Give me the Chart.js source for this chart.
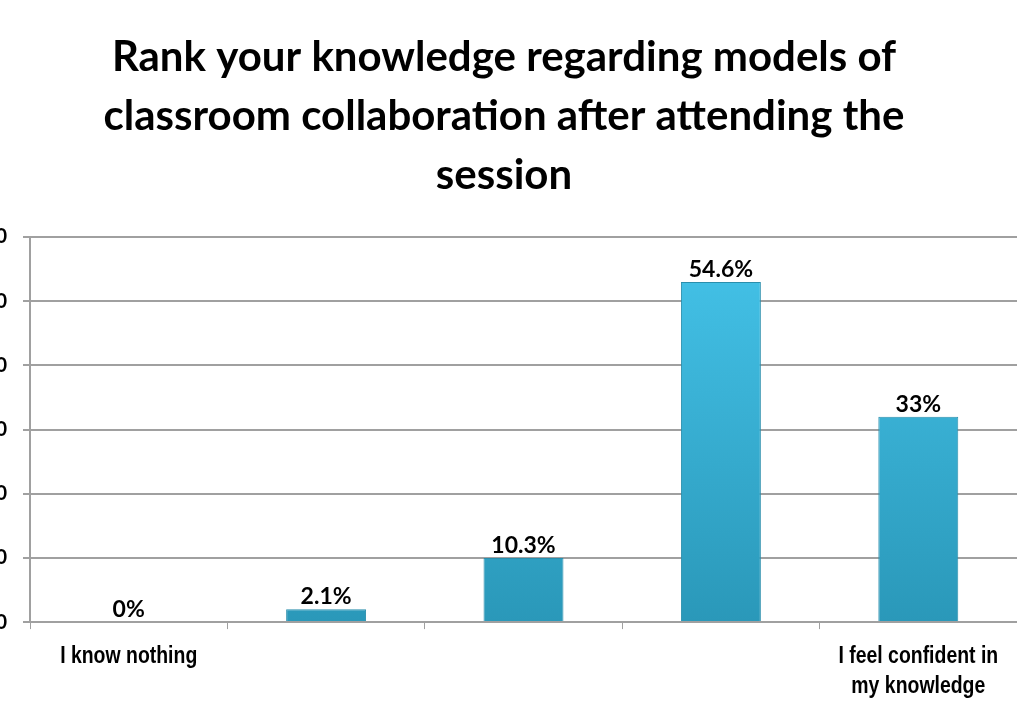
<!DOCTYPE html>
<html>
<head>
<meta charset="utf-8">
<script src="https://cdn.jsdelivr.net/npm/chart.js@4.4.1/dist/chart.umd.min.js"></script>
<style>
  html, body { margin: 0; padding: 0; background: #ffffff; overflow: hidden; }
  #wrap { position: absolute; left: -9px; top: 0; width: 1026px; height: 722px; }
</style>
</head>
<body>
<div id="wrap"><canvas id="c" width="1026" height="722"></canvas></div>
<script>
const categories = [["I know nothing"], "", "", "", ["I feel confident in", "my knowledge"]];
const counts = [0, 2, 10, 53, 32];
const percentLabels = ["0%", "2.1%", "10.3%", "54.6%", "33%"];
const titleLines = ["Rank your knowledge regarding models of", "classroom collaboration after attending the", "session"];
const yMin = 0, yMax = 60, yStep = 10;

// Percentage labels above the bars
const labelPlugin = {
  id: 'barLabels',
  afterDatasetsDraw(chart) {
    const ctx = chart.ctx;
    const meta = chart.getDatasetMeta(0);
    ctx.save();
    ctx.font = 'bold 23px Lato, "Open Sans", sans-serif';
    ctx.fillStyle = '#000000';
    ctx.textAlign = 'center';
    ctx.textBaseline = 'alphabetic';
    meta.data.forEach((bar, i) => {
      ctx.fillText(percentLabels[i], bar.x, bar.y - 5);
    });
    ctx.restore();
  }
};

// Category labels in a narrow face (Arial Narrow look)
const narrowXLabels = {
  id: 'narrowXLabels',
  afterDraw(chart) {
    const ctx = chart.ctx;
    const xs = chart.scales.x;
    ctx.save();
    ctx.font = 'bold 24px "Liberation Sans", Arial, sans-serif';
    ctx.fillStyle = '#000000';
    ctx.textAlign = 'center';
    ctx.textBaseline = 'alphabetic';
    categories.forEach((lab, i) => {
      const lines = Array.isArray(lab) ? lab : [lab];
      const x = xs.getPixelForTick(i);
      lines.forEach((line, j) => {
        ctx.save();
        ctx.translate(x, xs.top + 41 + j * 30);
        ctx.scale(0.81, 1);
        ctx.fillText(line, 0, 0);
        ctx.restore();
      });
    });
    ctx.restore();
  }
};

function barFill(context) {
  const chart = context.chart;
  const area = chart.chartArea;
  if (!area) return '#3ab7dc';
  const g = chart.ctx.createLinearGradient(0, area.top, 0, area.bottom);
  g.addColorStop(0, '#45c4ea');
  g.addColorStop(1, '#2a98b9');
  return g;
}

new Chart(document.getElementById('c'), {
  type: 'bar',
  data: {
    labels: categories,
    datasets: [{
      data: counts,
      backgroundColor: barFill,
      borderColor: '#2a8eac',
      borderWidth: 1,
      barPercentage: 0.81,
      categoryPercentage: 0.5
    }]
  },
  options: {
    responsive: false,
    animation: false,
    layout: { padding: { left: 0, right: 0, top: 0, bottom: 0 } },
    plugins: {
      legend: { display: false },
      tooltip: { enabled: false },
      title: {
        display: true,
        text: titleLines,
        color: '#000000',
        font: { family: 'Lato, "Open Sans", sans-serif', size: 42, weight: 'bold', lineHeight: 1.405 },
        padding: { top: 28, bottom: 32 }
      }
    },
    scales: {
      x: {
        grid: { drawOnChartArea: false, drawTicks: true, tickLength: 7, color: '#a0a0a0' },
        border: { color: '#a0a0a0', width: 2 },
        ticks: {
          color: 'rgba(0,0,0,0)',
          font: { family: '"Liberation Sans", sans-serif', size: 19, weight: 'bold', lineHeight: 1.55 },
          padding: 17,
          maxRotation: 0,
          autoSkip: false
        }
      },
      y: {
        min: yMin,
        max: yMax,
        afterFit(scale) { scale.width = 39; },
        grid: { color: '#a0a0a0', lineWidth: 2, tickLength: 7 },
        border: { color: '#a0a0a0', width: 2 },
        ticks: {
          stepSize: yStep,
          color: '#000000',
          padding: 16,
          font: { family: 'Lato, "Open Sans", sans-serif', size: 20, weight: 'bold' }
        }
      }
    }
  },
  plugins: [labelPlugin, narrowXLabels]
});
</script>
</body>
</html>
